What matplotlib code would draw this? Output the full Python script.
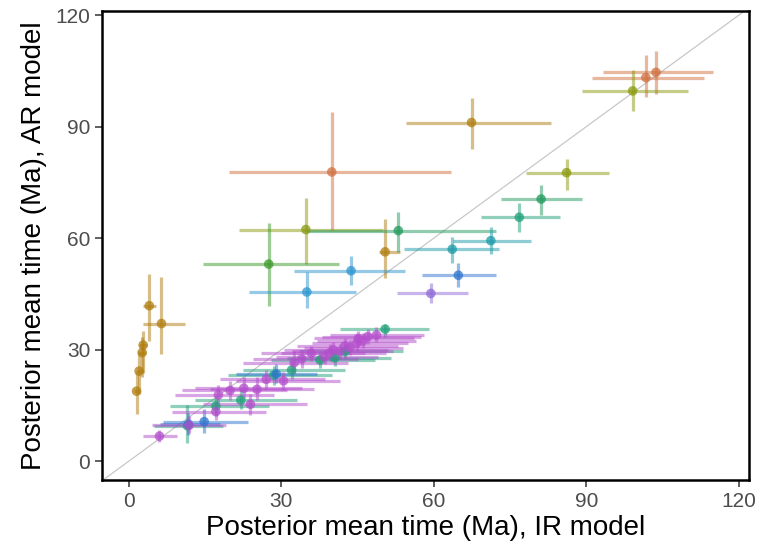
import matplotlib.pyplot as plt
import numpy as np

plt.rcParams['font.family'] = ['Liberation Sans', 'DejaVu Sans']

# group colours
COLORS = {
    'orange': '#D0703F',
    'gold': '#B07D10',
    'olive': '#8A9A10',
    'green': '#3C9A2A',
    'seagreen': '#229A5C',
    'tealgreen': '#20A07A',
    'teal': '#1E9AA8',
    'sky': '#2E95CF',
    'blue': '#2F74D0',
    'purple': '#8E6AD6',
    'magenta': '#B44FCC',
}

# posterior means (IR x, AR y) and 95% intervals per group
orange_x = [39.9, 101.7, 103.7]
orange_y = [77.8, 103.2, 104.6]
orange_xlo = [19.7, 91.1, 93.3]
orange_xhi = [63.3, 113.1, 114.9]
orange_ylo = [62.1, 97.9, 98.7]
orange_yhi = [93.9, 109.2, 110.3]

gold_x = [67.4, 50.4, 4.0, 6.4, 2.8, 2.6, 2.0, 1.5]
gold_y = [91.1, 56.3, 41.8, 37.0, 31.2, 29.2, 24.2, 18.8]
gold_xlo = [54.6, 49.2, 2.8, 2.7, 2.0, 1.9, 1.5, 1.0]
gold_xhi = [83.0, 53.3, 5.4, 11.0, 3.6, 3.3, 2.6, 2.0]
gold_ylo = [84.1, 49.2, 32.4, 28.7, 23.6, 22.5, 18.0, 12.6]
gold_yhi = [97.6, 65.1, 50.3, 49.6, 35.1, 33.5, 29.5, 24.3]

olive_x = [99.1, 86.1, 34.8]
olive_y = [99.6, 77.6, 62.3]
olive_xlo = [89.1, 78.2, 21.6]
olive_xhi = [110.0, 94.5, 49.9]
olive_ylo = [94.2, 72.9, 53.0]
olive_yhi = [105.2, 81.4, 70.7]

green_x = [27.5]
green_y = [53.0]
green_xlo = [14.6]
green_xhi = [41.4]
green_ylo = [41.8]
green_yhi = [64.1]

seagreen_x = [53.0, 81.1]
seagreen_y = [62.0, 70.5]
seagreen_xlo = [35.0, 73.2]
seagreen_xhi = [72.2, 89.2]
seagreen_ylo = [56.3, 66.2]
seagreen_yhi = [67.1, 74.3]

tealgreen_x = [76.8, 11.5, 17.1, 22.0, 28.5, 32.0, 37.6, 40.5, 42.5, 50.4]
tealgreen_y = [65.6, 9.5, 14.8, 16.4, 23.1, 24.5, 27.2, 27.8, 29.5, 35.5]
tealgreen_xlo = [69.2, 5.0, 8.0, 13.0, 19.5, 22.5, 28.0, 31.0, 33.5, 41.6]
tealgreen_xhi = [84.9, 18.5, 27.5, 33.0, 40.0, 42.5, 48.5, 51.5, 54.0, 59.0]
tealgreen_ylo = [61.7, 4.8, 12.0, 14.0, 20.5, 22.0, 25.0, 25.5, 27.5, 33.5]
tealgreen_yhi = [69.5, 15.1, 17.5, 19.0, 25.5, 27.0, 29.5, 30.0, 31.5, 37.0]

teal_x = [71.2, 63.6]
teal_y = [59.3, 57.0]
teal_xlo = [63.7, 54.1]
teal_xhi = [79.1, 72.8]
teal_ylo = [55.7, 53.3]
teal_yhi = [62.9, 60.3]

sky_x = [43.7, 35.0]
sky_y = [51.2, 45.5]
sky_xlo = [32.5, 23.6]
sky_xhi = [54.3, 44.7]
sky_ylo = [47.4, 41.1]
sky_yhi = [55.2, 50.9]

blue_x = [64.8, 11.7, 14.8, 29.0]
blue_y = [50.0, 9.9, 10.6, 23.4]
blue_xlo = [57.7, 6.1, 6.7, 21.0]
blue_xhi = [72.2, 17.9, 23.4, 37.0]
blue_ylo = [46.9, 7.0, 7.5, 21.0]
blue_yhi = [53.2, 13.0, 14.0, 26.0]

purple_x = [59.4]
purple_y = [45.1]
purple_xlo = [52.8]
purple_xhi = [66.8]
purple_ylo = [42.4]
purple_yhi = [48.0]

magenta_x = [6.0, 11.8, 17.1, 17.6, 19.9, 22.6, 23.9, 25.2, 27.0, 30.4, 32.5,
             34.0, 35.9, 38.5, 39.5, 40.2, 41.5, 42.5, 43.5, 44.8, 45.1, 46.0,
             47.0, 48.7]
magenta_y = [6.7, 9.6, 13.3, 17.8, 19.0, 19.6, 15.3, 19.3, 22.0, 21.6, 26.5,
             27.5, 29.0, 28.0, 29.1, 29.9, 29.5, 31.0, 30.5, 31.7, 33.0, 32.3,
             33.5, 33.9]
magenta_xlo = [2.8, 4.5, 8.5, 9.0, 10.5, 13.0, 14.5, 16.0, 18.0, 21.0, 22.5,
               24.5, 26.0, 29.0, 30.0, 30.5, 32.0, 33.0, 34.5, 36.0, 36.5, 37.0,
               38.0, 39.5]
magenta_xhi = [9.4, 19.0, 27.0, 28.5, 31.0, 34.0, 35.0, 36.5, 38.5, 41.5, 43.0,
               45.0, 46.5, 49.0, 50.5, 51.0, 52.0, 53.0, 54.0, 55.0, 56.0, 56.5,
               57.5, 58.0]
magenta_ylo = [5.2, 7.5, 11.0, 15.5, 16.5, 17.0, 12.5, 16.5, 19.5, 19.0, 23.5,
               25.0, 27.0, 26.0, 27.0, 28.0, 27.5, 29.0, 28.5, 29.5, 31.0, 30.5,
               31.5, 32.0]
magenta_yhi = [8.3, 12.0, 16.0, 20.5, 21.5, 22.5, 18.0, 22.5, 24.5, 24.0, 29.5,
               30.0, 31.0, 30.0, 31.5, 32.0, 31.5, 33.0, 32.5, 34.0, 35.0, 34.5,
               35.5, 36.0]

groups = [
    ('orange', orange_x, orange_y, orange_xlo, orange_xhi, orange_ylo, orange_yhi),
    ('gold', gold_x, gold_y, gold_xlo, gold_xhi, gold_ylo, gold_yhi),
    ('olive', olive_x, olive_y, olive_xlo, olive_xhi, olive_ylo, olive_yhi),
    ('green', green_x, green_y, green_xlo, green_xhi, green_ylo, green_yhi),
    ('seagreen', seagreen_x, seagreen_y, seagreen_xlo, seagreen_xhi, seagreen_ylo, seagreen_yhi),
    ('tealgreen', tealgreen_x, tealgreen_y, tealgreen_xlo, tealgreen_xhi, tealgreen_ylo, tealgreen_yhi),
    ('teal', teal_x, teal_y, teal_xlo, teal_xhi, teal_ylo, teal_yhi),
    ('sky', sky_x, sky_y, sky_xlo, sky_xhi, sky_ylo, sky_yhi),
    ('blue', blue_x, blue_y, blue_xlo, blue_xhi, blue_ylo, blue_yhi),
    ('purple', purple_x, purple_y, purple_xlo, purple_xhi, purple_ylo, purple_yhi),
    ('magenta', magenta_x, magenta_y, magenta_xlo, magenta_xhi, magenta_ylo, magenta_yhi),
]

fig = plt.figure(figsize=(7.63, 5.59), dpi=100)
ax = fig.add_axes([0.1337, 0.1413, 0.848, 0.839])

ax.axline((0, 0), slope=1, color='#c8c8c8', lw=0.9, zorder=1)

for name, x, y, xlo, xhi, ylo, yhi in groups:
    x = np.array(x)
    y = np.array(y)
    xerr = [x - np.array(xlo), np.array(xhi) - x]
    yerr = [y - np.array(ylo), np.array(yhi) - y]
    ax.errorbar(x, y, xerr=xerr, yerr=yerr, fmt='none', ecolor=COLORS[name],
                elinewidth=2.3, alpha=0.5, capsize=0, zorder=2)
    ax.scatter(x, y, s=48, color=COLORS[name], alpha=0.75, edgecolors='none', zorder=3)

ax.set_xlim(-5.3, 122)
ax.set_ylim(-5.1, 121.1)
ticks = [0, 30, 60, 90, 120]
ax.set_xticks(ticks)
ax.set_yticks(ticks)
ax.tick_params(labelsize=15, labelcolor='#4d4d4d', color='#333333',
               length=5, width=1.1)
for s in ax.spines.values():
    s.set_linewidth(1.8)
    s.set_color('black')

ax.set_xlabel('Posterior mean time (Ma), IR model', fontsize=20, labelpad=3)
ax.set_ylabel('Posterior mean time (Ma), AR model', fontsize=20, labelpad=6)

plt.savefig('out.png', dpi=100)
